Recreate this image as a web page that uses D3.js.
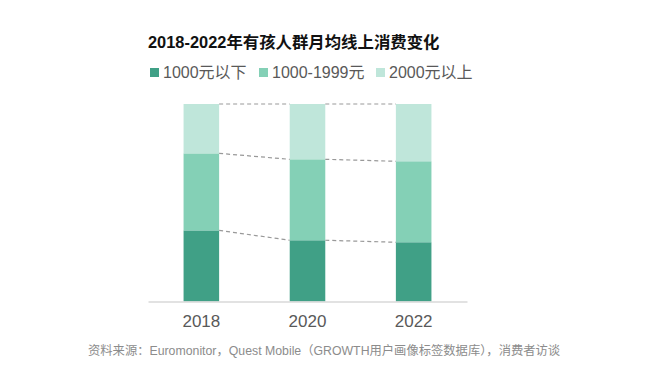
<!DOCTYPE html>
<html>
<head>
<meta charset="utf-8">
<script src="https://cdn.jsdelivr.net/npm/d3@7"></script>
<style>
  body { margin: 0; background: #fff; }
  text { font-family: "Liberation Sans", Arial, "Noto Sans CJK SC", sans-serif; }
</style>
</head>
<body>
<svg id="chart" width="650" height="384"></svg>
<script>
const years = ["2018", "2020", "2022"];
const seriesNames = ["1000元以下", "1000-1999元", "2000元以上"];
const below1000 = [36, 31, 30];
const mid1000 = [39, 41, 41];
const above2000 = [25, 28, 29];

const colors = ["#40a086", "#84d0b6", "#bfe6da"];

const svg = d3.select("#chart");

const rows = years.map((y, i) => ({
    year: y,
    [seriesNames[0]]: below1000[i],
    [seriesNames[1]]: mid1000[i],
    [seriesNames[2]]: above2000[i]
}));
const stacked = d3.stack().keys(seriesNames)(rows);

const x = d3.scaleBand()
    .domain(years)
    .range([148, 467])
    .paddingInner(0.665)
    .paddingOuter(0.335);

const yScale = d3.scaleLinear()
    .domain([0, 100])
    .range([301.5, 104]);

// title
svg.append("text")
    .attr("x", 148)
    .attr("y", 48)
    .attr("font-size", 16.4)
    .attr("font-weight", "bold")
    .attr("fill", "#111")
    .text("2018-2022年有孩人群月均线上消费变化");

// legend
const legendX = [150, 259, 376];
seriesNames.forEach((name, i) => {
    const g = svg.append("g").attr("transform", `translate(${legendX[i]},78)`);
    g.append("rect")
        .attr("x", 0).attr("y", -10)
        .attr("width", 9).attr("height", 9)
        .attr("fill", colors[i]);
    g.append("text")
        .attr("x", 13).attr("y", 0)
        .attr("font-size", 16)
        .attr("fill", "#595959")
        .text(name);
});

// bars
svg.append("g")
    .selectAll("g")
    .data(stacked)
    .join("g")
    .attr("fill", (d, i) => colors[i])
    .selectAll("rect")
    .data(d => d)
    .join("rect")
    .attr("x", d => x(d.data.year))
    .attr("y", d => yScale(d[1]))
    .attr("width", x.bandwidth())
    .attr("height", d => yScale(d[0]) - yScale(d[1]));

// dashed connectors between bar segments
stacked.forEach(layer => {
    for (let i = 0; i < layer.length - 1; i++) {
        svg.append("line")
            .attr("x1", x(years[i]) + x.bandwidth())
            .attr("y1", yScale(layer[i][1]))
            .attr("x2", x(years[i + 1]))
            .attr("y2", yScale(layer[i + 1][1]))
            .attr("stroke", "#999")
            .attr("stroke-width", 1.2)
            .attr("stroke-dasharray", "4,3");
    }
});

// axis
const xAxis = svg.append("g")
    .attr("transform", `translate(0,${yScale(0)})`)
    .call(d3.axisBottom(x).tickSize(0).tickPadding(13));
xAxis.select(".domain").attr("stroke", "#d9d9d9").attr("stroke-width", 1.5);
xAxis.selectAll("text")
    .attr("font-size", 17)
    .attr("fill", "#595959")
    .style("font-family", '"Liberation Sans", Arial, sans-serif');

// source
svg.append("text")
    .attr("x", 88)
    .attr("y", 355)
    .attr("font-size", 12.3)
    .attr("fill", "#8c8c8c")
    .text("资料来源：Euromonitor，Quest Mobile（GROWTH用户画像标签数据库），消费者访谈");
</script>
</body>
</html>
